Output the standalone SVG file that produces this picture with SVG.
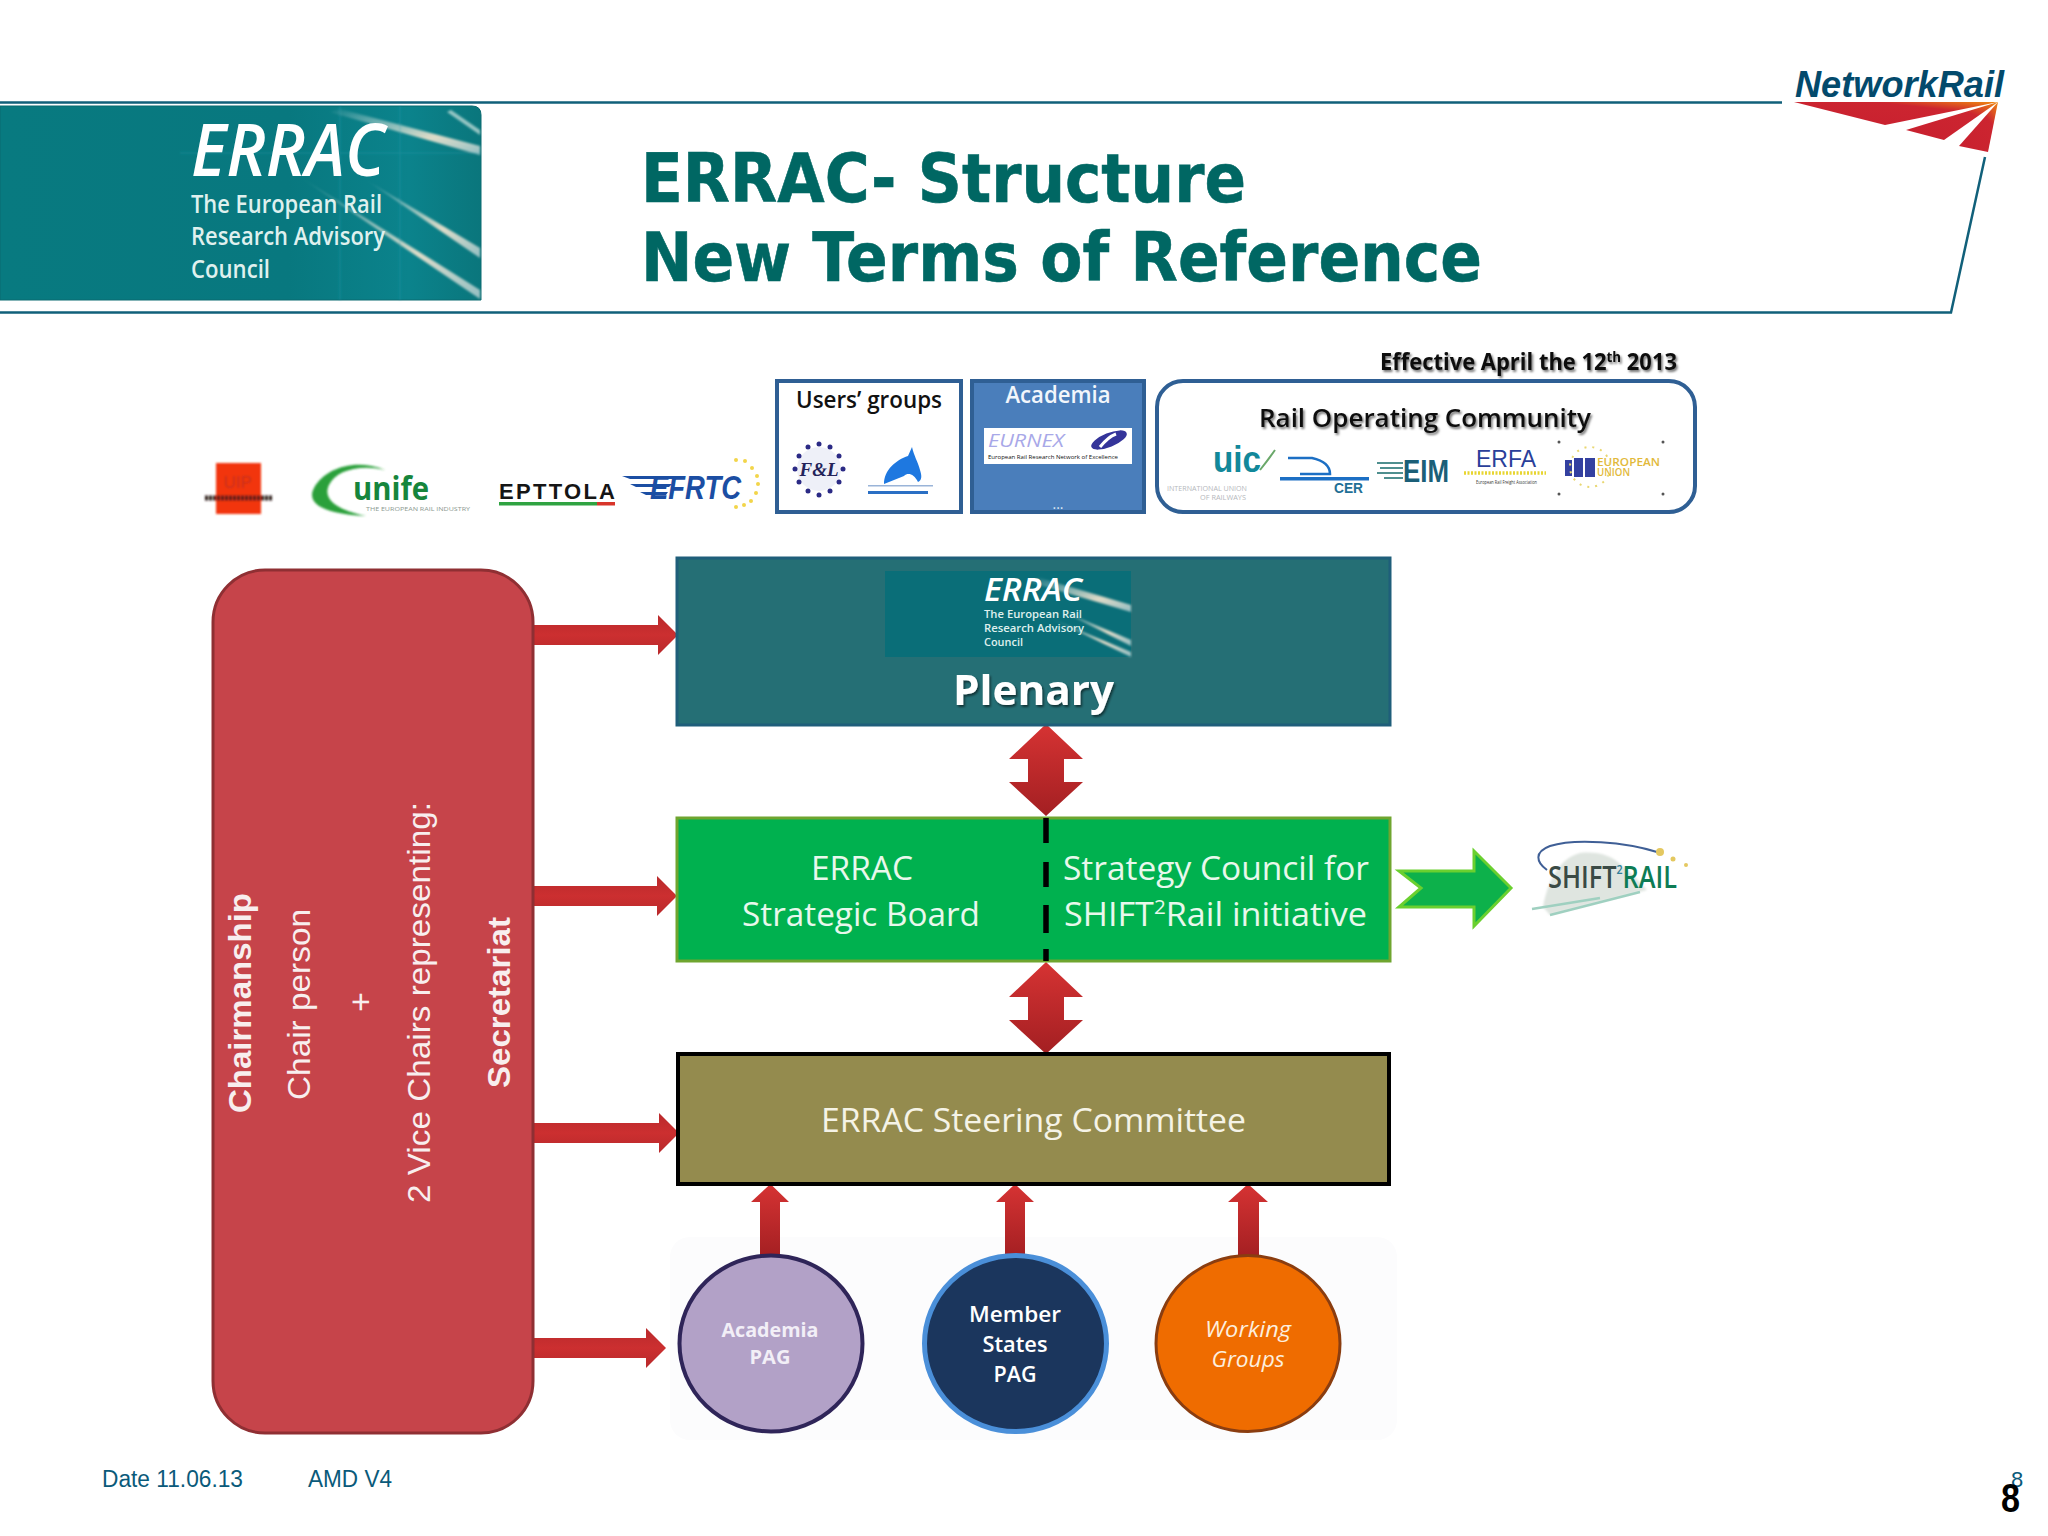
<svg xmlns="http://www.w3.org/2000/svg" width="2048" height="1536" viewBox="0 0 2048 1536">
<style>
text{font-family:"Open Sans","Noto Sans",sans-serif}
.ar{font-family:"Liberation Sans",Arial,sans-serif}
.dv{font-family:"DejaVu Sans",sans-serif;font-weight:700;fill:#006763;stroke:#006763;stroke-width:.6}
.frame{fill:none;stroke:#11607a;stroke-width:2.5}
.bluebox{stroke:#2f5f94;stroke-width:4}
.side{fill:#f8eeee;font-size:31px}
.b{font-weight:700}
.lt{fill:#e8f8ec;font-size:33px}
.logoT{fill:#e8f4f2}
.lg{fill:#dff0ee}
.arrow{fill:url(#redH)}
.up{fill:url(#redV)}
.dbl{fill:url(#redV)}
.small{fill:#111;font-size:5px}
</style>
<defs>
<linearGradient id="redV" x1="0" y1="0" x2="0" y2="1"><stop offset="0" stop-color="#d63333"/><stop offset="1" stop-color="#a31f22"/></linearGradient>
<linearGradient id="redH" x1="0" y1="0" x2="0" y2="1"><stop offset="0" stop-color="#b92a2c"/><stop offset=".5" stop-color="#cc2f30"/><stop offset="1" stop-color="#b8292b"/></linearGradient>
<linearGradient id="logoBg" x1="0" y1="0" x2="1" y2="0"><stop offset="0" stop-color="#087a80"/><stop offset=".6" stop-color="#08787f"/><stop offset=".85" stop-color="#0b838c"/><stop offset="1" stop-color="#0a767c"/></linearGradient>
<linearGradient id="nrRed" x1="0" y1="1" x2="1" y2="0"><stop offset="0" stop-color="#c8202f"/><stop offset=".7" stop-color="#cc2530"/><stop offset="1" stop-color="#f08a10"/></linearGradient>
<linearGradient id="streak" x1="0" y1="0" x2="1" y2="1"><stop offset="0" stop-color="#ffffff" stop-opacity="0"/><stop offset=".65" stop-color="#f6e6cf" stop-opacity=".9"/><stop offset="1" stop-color="#eee" stop-opacity=".6"/></linearGradient>
<filter id="soft" x="-5%" y="-5%" width="110%" height="110%"><feGaussianBlur stdDeviation="1"/></filter>
<filter id="shadow" x="-5%" y="-20%" width="110%" height="140%"><feDropShadow dx="1.5" dy="2" stdDeviation="1.2" flood-color="#000" flood-opacity=".55"/></filter>
<path id="dblArrow" d="M0 0L37 35L18 35L18 58L37 58L0 92L-37 58L-18 58L-18 35L-37 35Z"/>
</defs>

<rect width="2048" height="1536" fill="#fff"/>

<g id="header-frame">
<path class="frame" d="M0 102.5H1782M1985 157L1951 312.5H0"/>
</g>

<g id="errac-logo">
<path d="M0 106H472Q481 106 481 115V300H0Z" fill="url(#logoBg)" stroke="#0b6a70" stroke-width="1"/>
<g filter="url(#soft)">
<path d="M340 109L480 146V155L330 112Z" fill="url(#streak)"/>
<path d="M451 110L480 130V135L447 112Z" fill="#cfe6df" opacity=".7"/>
<path d="M366 180L480 248V258Z" fill="url(#streak)"/>
<path d="M300 177L480 290V299Z" fill="url(#streak)"/>
<path d="M180 153H480M340 106V300M400 106V300" stroke="#2aa5b5" stroke-width="1.5" opacity=".3" fill="none"/>
</g>
<text x="191" y="176" font-size="72" font-weight="600" font-style="italic" textLength="194" lengthAdjust="spacingAndGlyphs" fill="#fff">ERRAC</text>
<text class="lg" x="191" y="213" font-size="25" font-weight="600" textLength="191" lengthAdjust="spacingAndGlyphs">The European Rail</text>
<text class="lg" x="191" y="245" font-size="25" font-weight="600" textLength="194" lengthAdjust="spacingAndGlyphs">Research Advisory</text>
<text class="lg" x="191" y="278" font-size="25" font-weight="600" textLength="79" lengthAdjust="spacingAndGlyphs">Council</text>
</g>

<g id="title">
<text class="dv" x="641" y="202" font-size="67" textLength="605" lengthAdjust="spacingAndGlyphs">ERRAC- Structure</text>
<text class="dv" x="641" y="281" font-size="67" textLength="841" lengthAdjust="spacingAndGlyphs">New Terms of Reference</text>
</g>

<g id="network-rail-logo">
<text class="ar" x="1795" y="97" font-size="36" font-weight="700" font-style="italic" fill="#034a6c" textLength="209" lengthAdjust="spacingAndGlyphs">NetworkRail</text>
<path d="M1794 102H1998L1885 125Z" fill="url(#nrRed)"/>
<path d="M1998 102L1906 130L1944 140Z" fill="url(#nrRed)"/>
<path d="M1998 102L1959 146L1988 152Z" fill="url(#nrRed)"/>
</g>

<g id="effective-date">
<text x="1380" y="370" font-size="23" font-weight="700" fill="#111" filter="url(#shadow)" textLength="297" lengthAdjust="spacingAndGlyphs">Effective April the 12<tspan font-size="14" dy="-8">th</tspan><tspan dy="8"> 2013</tspan></text>
</g>

<g id="uip-logo" filter="url(#soft)">
<rect x="216" y="463" width="45" height="51" fill="#f23510"/>
<text class="ar" x="238" y="488" font-size="17" text-anchor="middle" fill="#c2301a">UIP</text>
<path d="M205 498H272" stroke="#2a1a18" stroke-width="5" stroke-dasharray="3 1"/>
</g>

<g id="unife-logo">
<g filter="url(#soft)"><path d="M385 470C355 458 325 468 314 488C306 503 322 514 366 516C338 510 322 500 329 485C336 471 358 464 385 470Z" fill="#2ca03a"/></g>
<text x="353" y="500" font-size="33" font-weight="700" fill="#16853c" textLength="76" lengthAdjust="spacingAndGlyphs">unife</text>
<text x="366" y="511" font-size="5.5" fill="#8d9a92" textLength="104" lengthAdjust="spacingAndGlyphs">THE EUROPEAN RAIL INDUSTRY</text>
</g>

<g id="epttola-logo">
<text class="ar" x="499" y="499" font-size="22" font-weight="700" fill="#151515" textLength="116" lengthAdjust="spacing">EPTTOLA</text>
<rect x="499" y="502" width="98" height="3.5" fill="#2fa341"/>
<rect x="597" y="502" width="18" height="3.5" fill="#d8352a"/>
</g>

<g id="efrtc-logo">
<path d="M622 476H680L676 479H630ZM630 484H672L669 487H636ZM640 492H668L666 495H646Z" fill="#1b4ea3"/>
<text class="ar" x="650" y="499" font-size="33" font-weight="700" font-style="italic" fill="#1b4ea3" textLength="91" lengthAdjust="spacingAndGlyphs">EFRTC</text>
<g fill="#f2d54a"><circle cx="736" cy="460" r="2"/><circle cx="745" cy="461" r="2"/><circle cx="752" cy="468" r="2"/><circle cx="757" cy="476" r="2"/><circle cx="758" cy="484" r="2"/><circle cx="756" cy="493" r="2"/><circle cx="751" cy="501" r="2"/><circle cx="744" cy="505" r="2"/><circle cx="736" cy="507" r="2"/></g>
</g>

<g id="users-groups">
<rect class="bluebox" x="777" y="381" width="184" height="131" fill="#fff"/>
<text x="869" y="408" font-size="23" font-weight="600" fill="#111" text-anchor="middle" textLength="146" lengthAdjust="spacingAndGlyphs">Users’ groups</text>
<circle cx="819" cy="469" r="22" fill="#eef0f8"/>
<g fill="#2b2a85"><circle cx="819" cy="444" r="2.5"/><circle cx="830" cy="447" r="2.5"/><circle cx="839" cy="456" r="2.5"/><circle cx="843" cy="469" r="2.5"/><circle cx="839" cy="482" r="2.5"/><circle cx="830" cy="491" r="2.5"/><circle cx="819" cy="495" r="2.5"/><circle cx="808" cy="491" r="2.5"/><circle cx="799" cy="482" r="2.5"/><circle cx="795" cy="469" r="2.5"/><circle cx="799" cy="456" r="2.5"/><circle cx="808" cy="447" r="2.5"/></g>
<text x="819" y="476" font-size="19" font-weight="700" font-style="italic" fill="#23235a" text-anchor="middle" style="font-family:'Liberation Serif',serif">F&amp;L</text>
<path d="M912 447C914 456 918 462 920 470C922 476 922 480 918 482C914 474 908 472 904 476L884 484C884 470 896 460 908 456Z" fill="#1e78e0"/>
<rect x="868" y="485" width="65" height="1.5" fill="#9ab4d8"/>
<rect x="868" y="491" width="60" height="3" fill="#2a6fc4"/>
</g>

<g id="academia">
<rect class="bluebox" x="972" y="381" width="172" height="131" fill="#4a7ebb"/>
<text x="1058" y="403" font-size="23" font-weight="600" fill="#f2f6fb" text-anchor="middle" textLength="105" lengthAdjust="spacingAndGlyphs">Academia</text>
<rect x="984" y="428" width="148" height="36" fill="#fff"/>
<text x="988" y="447" font-size="18" font-style="italic" fill="#a8a8e8" textLength="76" lengthAdjust="spacingAndGlyphs">EURNEX</text>
<ellipse cx="1109" cy="440" rx="19" ry="7" transform="rotate(-22 1109 440)" fill="#34349a"/>
<path d="M1100 447Q1108 437 1116 434" stroke="#fff" stroke-width="3" fill="none"/>
<text class="small" x="988" y="459" textLength="130" lengthAdjust="spacingAndGlyphs">European Rail Research Network of Excellence</text>
<text x="1058" y="509" font-size="14" fill="#dfe8f4" text-anchor="middle">...</text>
</g>

<g id="rail-operating-community">
<rect class="bluebox" x="1157" y="381" width="538" height="131" rx="26" fill="#fff"/>
<text x="1425" y="427" font-size="26" font-weight="600" fill="#111" text-anchor="middle" filter="url(#shadow)" textLength="332" lengthAdjust="spacingAndGlyphs">Rail Operating Community</text>
<text class="ar" x="1213" y="472" font-size="36" font-weight="700" fill="#12889a" textLength="48" lengthAdjust="spacingAndGlyphs">uic</text>
<path d="M1260 470Q1268 460 1275 450" stroke="#6aa86a" stroke-width="2" fill="none"/>
<text x="1167" y="491" font-size="6.5" fill="#b5b8bc" textLength="80" lengthAdjust="spacingAndGlyphs">INTERNATIONAL UNION</text>
<text x="1200" y="500" font-size="6.5" fill="#b5b8bc" textLength="46" lengthAdjust="spacingAndGlyphs">OF RAILWAYS</text>
<path d="M1288 458H1312Q1330 462 1330 474H1300" stroke="#1c6fc4" stroke-width="2.5" fill="none"/>
<rect x="1280" y="477" width="89" height="3.5" fill="#1c6fc4"/>
<text class="ar" x="1334" y="493" font-size="15" font-weight="700" fill="#1f6f96" textLength="29" lengthAdjust="spacingAndGlyphs">CER</text>
<path d="M1377 463H1403M1380 468H1403M1377 473H1403M1384 478H1403" stroke="#4f8f8f" stroke-width="2"/>
<text class="ar" x="1403" y="482" font-size="31" font-weight="700" fill="#1b5f78" textLength="46" lengthAdjust="spacingAndGlyphs">EIM</text>
<text class="ar" x="1476" y="467" font-size="23" fill="#2a3f9a" textLength="60" lengthAdjust="spacingAndGlyphs">ERFA</text>
<path d="M1464 473H1546" stroke="#e8d530" stroke-width="3.5" stroke-dasharray="2 1.5"/>
<text x="1476" y="484" font-size="5" fill="#333" textLength="61" lengthAdjust="spacingAndGlyphs">European Rail Freight Association</text>
<rect x="1565" y="460" width="7" height="16" fill="#3340a0"/><rect x="1574" y="458" width="9" height="19" fill="#3340a0"/><rect x="1585" y="458" width="10" height="19" fill="#3340a0"/>
<text x="1597" y="466" font-size="11" font-weight="600" fill="#e2b93a" textLength="63" lengthAdjust="spacingAndGlyphs">EUROPEAN</text>
<text x="1597" y="476" font-size="11" font-weight="600" fill="#e2b93a" textLength="33" lengthAdjust="spacingAndGlyphs">UNION</text>
<g fill="#555"><circle cx="1559" cy="442" r="1.5"/><circle cx="1663" cy="442" r="1.5"/><circle cx="1559" cy="494" r="1.5"/><circle cx="1663" cy="494" r="1.5"/></g>
<circle cx="1590" cy="467" r="20" fill="none" stroke="#e9d772" stroke-width="2" stroke-dasharray="2 6"/>
</g>

<rect id="advisory-backdrop" x="670" y="1237" width="727" height="203" rx="20" fill="#fcfcfd"/>

<g id="connectors">
<use href="#dblArrow" x="1046" y="724" class="dbl"/>
<use href="#dblArrow" x="1046" y="962" class="dbl"/>
<path class="arrow" d="M533 625H658V615L678 635L658 655V645H533Z"/>
<path class="arrow" d="M533 886H657V876L677 896L657 916V906H533Z"/>
<path class="arrow" d="M533 1123H659V1113L679 1133L659 1153V1143H533Z"/>
<path class="arrow" d="M533 1338H646V1328L666 1348L646 1368V1358H533Z"/>
<path class="up" d="M770.5 1184L789 1202L780 1202V1258H760V1202L751 1202Z"/>
<path class="up" d="M1015 1184L1034 1202L1025 1202V1258H1005V1202L996 1202Z"/>
<path class="up" d="M1248 1184L1268 1202L1259 1202V1258H1238V1202L1228 1202Z"/>
<path d="M1399 871H1474V851L1511 888L1474 926V907H1399L1421 888Z" fill="#0db14b" stroke="#6ad02f" stroke-width="3"/>
</g>

<g id="chairmanship">
<rect x="213" y="570" width="320" height="863" rx="52" fill="#c6444a" stroke="#8f2f33" stroke-width="3"/>
<text class="ar side b" transform="translate(251 1113) rotate(-90)" textLength="220" lengthAdjust="spacingAndGlyphs">Chairmanship</text>
<text class="ar side" transform="translate(310 1100) rotate(-90)" textLength="191" lengthAdjust="spacingAndGlyphs">Chair person</text>
<text class="ar side" transform="translate(372 1002) rotate(-90)" text-anchor="middle" style="font-size:34px">+</text>
<text class="ar side" transform="translate(430 1203) rotate(-90)" textLength="401" lengthAdjust="spacingAndGlyphs">2 Vice Chairs representing:</text>
<text class="ar side b" transform="translate(510 1088) rotate(-90)" textLength="171" lengthAdjust="spacingAndGlyphs">Secretariat</text>
</g>

<g id="plenary">
<rect x="677" y="558" width="713" height="167" fill="#256f75" stroke="#1f5e7a" stroke-width="3"/>
<rect x="885" y="571" width="246" height="86" fill="#0a6e78"/>
<g filter="url(#soft)">
<path d="M1040 578L1131 605V612L1030 582Z" fill="url(#streak)"/>
<path d="M1060 610L1131 640V646Z" fill="url(#streak)"/>
<path d="M1050 618L1131 652V657Z" fill="url(#streak)"/>
</g>
<text x="984" y="601" font-size="32" font-weight="600" font-style="italic" fill="#fff" textLength="98" lengthAdjust="spacingAndGlyphs">ERRAC</text>
<text class="lg" x="984" y="618" font-size="11" font-weight="600" textLength="98" lengthAdjust="spacingAndGlyphs">The European Rail</text>
<text class="lg" x="984" y="632" font-size="11" font-weight="600" textLength="100" lengthAdjust="spacingAndGlyphs">Research Advisory</text>
<text class="lg" x="984" y="646" font-size="11" font-weight="600" textLength="39" lengthAdjust="spacingAndGlyphs">Council</text>
<text x="953" y="705" font-size="42" font-weight="700" fill="#fff" filter="url(#shadow)" textLength="161" lengthAdjust="spacingAndGlyphs">Plenary</text>
</g>

<g id="strategic-board">
<rect x="677" y="818" width="713" height="143" fill="#00b14f" stroke="#6fa52f" stroke-width="3"/>
<path d="M1046 818V843M1046 862V887M1046 905V933M1046 949V961" stroke="#000" stroke-width="5.5"/>
<text class="lt" x="862" y="880" text-anchor="middle" textLength="102" lengthAdjust="spacingAndGlyphs">ERRAC</text>
<text class="lt" x="861" y="926" text-anchor="middle" textLength="238" lengthAdjust="spacingAndGlyphs">Strategic Board</text>
<text class="lt" x="1063" y="880" textLength="306" lengthAdjust="spacingAndGlyphs">Strategy Council for</text>
<text class="lt" x="1064" y="926" textLength="303" lengthAdjust="spacingAndGlyphs">SHIFT<tspan font-size="20" dy="-12">2</tspan><tspan dy="12">Rail initiative</tspan></text>
</g>

<g id="shift2rail-logo">
<path d="M1543 907C1548 880 1560 858 1580 853C1598 851 1612 856 1620 864C1630 872 1640 882 1647 890L1550 915Z" fill="#dfe5e0" filter="url(#soft)"/>
<path d="M1532 909L1600 898M1550 915L1640 892" stroke="#9fd0c0" stroke-width="2.5" fill="none"/>
<path d="M1547 870C1536 862 1534 852 1550 846C1575 838 1625 842 1657 852" stroke="#3f5f96" stroke-width="2" fill="none"/>
<g fill="#e4c860"><circle cx="1660" cy="852" r="4"/><circle cx="1673" cy="859" r="2.5"/><circle cx="1686" cy="865" r="2"/></g>
<text x="1548" y="888" font-size="31" font-weight="600" fill="#3a4a45" textLength="129" lengthAdjust="spacingAndGlyphs">SHIFT<tspan font-size="13" dy="-14" fill="#2f7f9a">2</tspan><tspan dy="14" fill="#0e7c55">RAIL</tspan></text>
</g>

<g id="steering-committee">
<rect x="678" y="1054" width="711" height="130" fill="#948b4e" stroke="#000" stroke-width="4"/>
<text x="821" y="1132" font-size="33" fill="#f5f3e6" textLength="425" lengthAdjust="spacingAndGlyphs">ERRAC Steering Committee</text>
</g>

<g id="academia-pag">
<ellipse cx="771" cy="1343.5" rx="91.5" ry="88" fill="#b2a1c7" stroke="#2f2559" stroke-width="4"/>
<text x="770" y="1337" font-size="20" font-weight="700" fill="#f2eff7" text-anchor="middle" textLength="97" lengthAdjust="spacingAndGlyphs">Academia</text>
<text x="770" y="1364" font-size="20" font-weight="700" fill="#f2eff7" text-anchor="middle" textLength="41" lengthAdjust="spacingAndGlyphs">PAG</text>
</g>

<g id="member-states-pag">
<ellipse cx="1015.5" cy="1343.5" rx="91" ry="88" fill="#1b365d" stroke="#4a8fd9" stroke-width="5"/>
<text x="1015" y="1322" font-size="22" font-weight="600" fill="#fff" text-anchor="middle" textLength="92" lengthAdjust="spacingAndGlyphs">Member</text>
<text x="1015" y="1352" font-size="22" font-weight="600" fill="#fff" text-anchor="middle" textLength="65" lengthAdjust="spacingAndGlyphs">States</text>
<text x="1015" y="1382" font-size="22" font-weight="600" fill="#fff" text-anchor="middle" textLength="43" lengthAdjust="spacingAndGlyphs">PAG</text>
</g>

<g id="working-groups">
<ellipse cx="1248" cy="1343.5" rx="92" ry="88" fill="#ef6c00" stroke="#8a3d10" stroke-width="3"/>
<text x="1248" y="1337" font-size="22" font-style="italic" fill="#fdeedd" text-anchor="middle" textLength="86" lengthAdjust="spacingAndGlyphs">Working</text>
<text x="1248" y="1367" font-size="22" font-style="italic" fill="#fdeedd" text-anchor="middle" textLength="73" lengthAdjust="spacingAndGlyphs">Groups</text>
</g>

<g id="footer">
<text class="ar" x="102" y="1487" font-size="23" fill="#0a5a7a" textLength="141" lengthAdjust="spacingAndGlyphs">Date 11.06.13</text>
<text class="ar" x="308" y="1487" font-size="23" fill="#0a5a7a" textLength="84" lengthAdjust="spacingAndGlyphs">AMD V4</text>
<text class="ar" x="2017" y="1487" font-size="22" fill="#0a5a7a" text-anchor="middle">8</text>
<text class="ar" x="2001" y="1512" font-size="40" font-weight="700" fill="#000" textLength="19" lengthAdjust="spacingAndGlyphs">8</text>
</g>
</svg>
